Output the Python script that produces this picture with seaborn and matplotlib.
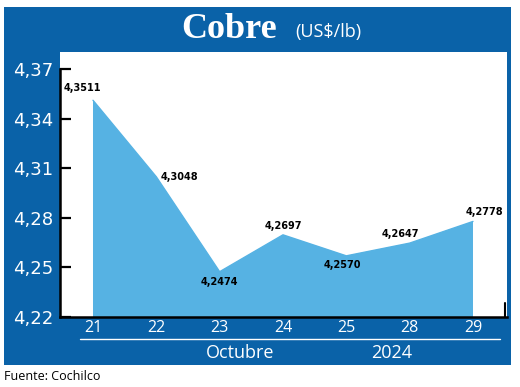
import matplotlib
matplotlib.use("Agg")
import matplotlib.pyplot as plt
from matplotlib.patches import Rectangle
from matplotlib.lines import Line2D
import numpy as np
import pandas as pd
import seaborn as sns

# datos
dias = ["21", "22", "23", "24", "25", "28", "29"]
precios = [4.3511, 4.3048, 4.2474, 4.2697, 4.2570, 4.2647, 4.2778]
etiquetas = ["4,3511", "4,3048", "4,2474", "4,2697", "4,2570", "4,2647", "4,2778"]
yticks = [4.22, 4.25, 4.28, 4.31, 4.34, 4.37]
ytick_labels = ["4,22", "4,25", "4,28", "4,31", "4,34", "4,37"]

azul = "#0a62a8"
celeste = "#56b2e3"
W, H = 520, 387

sns.set_theme(style="white")
plt.rcParams['font.family'] = ['DejaVu Sans']

fig = plt.figure(figsize=(W / 100, H / 100), dpi=100)
fig.patch.set_facecolor("white")
# fondo azul
fig.add_artist(Rectangle((4 / W, 1 - 365 / H), (511 - 4) / W, (365 - 7) / H,
                         transform=fig.transFigure, facecolor=azul, edgecolor="none", zorder=0))

ax = fig.add_axes([60 / W, 1 - 317 / H, (507 - 60) / W, (317 - 52) / H])
ax.set_facecolor("white")

df = pd.DataFrame({"x": np.arange(len(dias)), "y": precios})
ax.fill_between(df["x"], df["y"], 4.0, color=celeste, lw=0, zorder=1)
sns.lineplot(data=df, x="x", y="y", ax=ax, color=celeste, lw=1, zorder=2)

ax.set_ylim(4.22, 4.3803)
ax.set_xlim(-0.521, 6.537)
ax.set_yticks(yticks)
ax.set_yticklabels(ytick_labels, color="white", fontsize=13)
ax.set_xticks(df["x"])
ax.set_xticklabels(dias, color="white", fontsize=11.5, family=['Open Sans', 'DejaVu Sans'])
ax.tick_params(axis="y", direction="in", length=8, width=1.6, color="black", pad=5, left=True)
ax.tick_params(axis="x", length=0, pad=2)
ax.set_xlabel("")
ax.set_ylabel("")
for s in ["top", "right"]:
    ax.spines[s].set_visible(False)
ax.spines["left"].set_color("black")
ax.spines["left"].set_linewidth(1.8)
ax.spines["bottom"].set_color("black")
ax.spines["bottom"].set_linewidth(1.8)
ax.spines["left"].set_bounds(4.22, 4.37)

# etiquetas de valores
offsets = [(-8, 5, "center", "bottom"), (3, 0, "left", "center"), (0, -4, "center", "top"),
           (0, 3, "center", "bottom"), (-3, -3, "center", "top"), (-7, 3, "center", "bottom"),
           (8, 3, "center", "bottom")]
for xi, yi, t, (dx, dy, ha, va) in zip(df["x"], precios, etiquetas, offsets):
    ax.annotate(t, (xi, yi), xytext=(dx, dy), textcoords="offset points", ha=ha, va=va,
                fontsize=7, fontweight="bold", color="black", family=['DejaVu Sans'])

# marca derecha
fig.add_artist(Line2D([505 / W, 505 / W], [1 - 317 / H, 1 - 303 / H], color="black", lw=1.5,
                      transform=fig.transFigure))

# titulo
fig.text(229 / W, 1 - 29 / H, "Cobre", color="white", fontsize=26, fontweight="bold",
         family=['Liberation Serif', 'DejaVu Serif'], ha="center", va="center")
fig.text(295 / W, 1 - 32 / H, "(US$/lb)", color="white", fontsize=13,
         family=['Open Sans', 'DejaVu Sans'], ha="left", va="center")

# linea y texto inferior
fig.add_artist(Line2D([80 / W, 500 / W], [1 - 339 / H, 1 - 339 / H], color="white", lw=1,
                      transform=fig.transFigure))
fig.text(240 / W, 1 - 353 / H, "Octubre", color="white", fontsize=13,
         family=['Open Sans', 'DejaVu Sans'], ha="center", va="center")
fig.text(392 / W, 1 - 353 / H, "2024", color="white", fontsize=13,
         family=['Open Sans', 'DejaVu Sans'], ha="center", va="center")
fig.text(4 / W, 1 - 377 / H, "Fuente: Cochilco", color="black", fontsize=9,
         family=['Open Sans', 'DejaVu Sans'], ha="left", va="center")

fig.savefig("out.png", dpi=100)
